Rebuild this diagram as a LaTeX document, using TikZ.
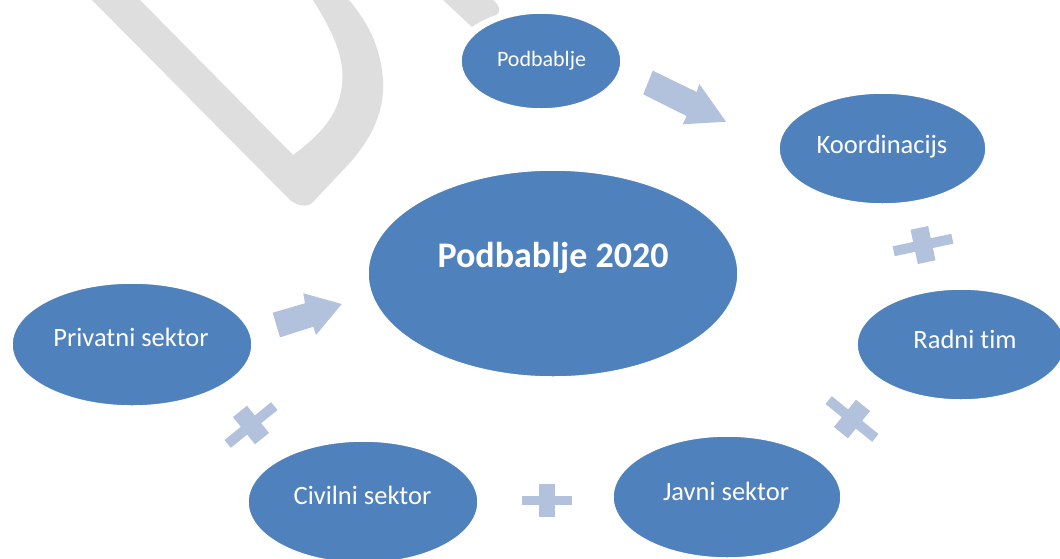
\documentclass[tikz,border=0pt]{standalone}
\usepackage{fontspec}
\setmainfont{Carlito}[Ligatures=NoCommon]
\usetikzlibrary{shapes.geometric,calc}
\definecolor{ellblue}{RGB}{79,129,189}
\definecolor{lightblue}{RGB}{178,193,220}
\definecolor{wmgrey}{RGB}{222,222,222}
\tikzset{
  ell/.style={ellipse, fill=ellblue, draw=white, line width=1.5pt, inner sep=0pt},
  lbl/.style={anchor=base, text=white, inner sep=0pt, font=\fontsize{26.5}{30}\selectfont},
  blockarrow/.style={fill=lightblue, draw=none},
}
\newcommand\plusmark[7]{% x y angle long longthick short shortthick
  \begin{scope}[shift={(#1,#2)}, rotate=#3]
    \fill[lightblue] (-#4/2,-#5/2) rectangle (#4/2,#5/2);
    \fill[lightblue] (-#7/2,-#6/2) rectangle (#7/2,#6/2);
  \end{scope}}
\begin{document}
\begin{tikzpicture}[x=1pt,y=-1pt]
\useasboundingbox (0,0) rectangle (1060,558);
\clip (0,0) rectangle (1060,558);
\fill[white] (0,0) rectangle (1060,558);
% watermark
\fill[wmgrey] (92,0) -- (289,199) .. controls (296,206) and (308,208) .. (313,202)
  -- (345,168) .. controls (372,140) and (385,110) .. (383,80)
  .. controls (381,50) and (370,25) .. (349,0) -- (313,0)
  .. controls (335,35) and (345,60) .. (342,85)
  .. controls (339,115) and (320,135) .. (293,155) -- (140,0) -- cycle;
\fill[wmgrey] (443,0) -- (472,27) .. controls (480,21) and (490,17) .. (496,15)
  .. controls (500,13) and (500,8) .. (497,4) -- (493,0) -- cycle;
% ellipses
\node[ell, minimum width=160pt, minimum height=96pt] (top) at (541,61) {};
\node[ell, minimum width=207pt, minimum height=111pt] (koord) at (882.5,148.5) {};
\node[ell, minimum width=370pt, minimum height=207pt] (center) at (553,273.5) {};
\node[ell, minimum width=240pt, minimum height=123pt] (priv) at (132,344.5) {};
\node[ell, minimum width=208pt, minimum height=111pt] (radni) at (961,344.5) {};
\node[ell, minimum width=230pt, minimum height=122pt] (civil) at (363,502) {};
\node[ell, minimum width=228pt, minimum height=122pt] (javni) at (727,497) {};
% labels
\node[lbl, font=\fontsize{22}{26}\selectfont] (ttop) at (541.5,66) {Podbablje};
\node[lbl] (tkoord) at (882,153.3) {Koordinacijs};
\node[lbl, font=\fontsize{36}{40}\selectfont\bfseries] (tcenter) at (553,267.3) {Podbablje 2020};
\node[lbl] (tpriv) at (131,346) {Privatni sektor};
\node[lbl] (tradni) at (965,348.3) {Radni tim};
\node[lbl] (tcivil) at (362.5,504) {Civilni sektor};
\node[lbl] (tjavni) at (726,500) {Javni sektor};
% block arrows
\fill[blockarrow] (652.7,70.7) -- (696.7,92) -- (699.3,84) -- (726,121.7)
  -- (682.7,124.3) -- (686.7,116) -- (643.3,94.3) -- cycle;
\fill[blockarrow] (272.7,312.7) -- (305,303.3) -- (303.3,293.3) -- (341.7,304)
  -- (316,335) -- (313.3,326.7) -- (280,337.3) -- cycle;
% plus signs
\plusmark{923}{245}{12}{60}{10}{35}{18}
\plusmark{852}{419}{-39}{60}{10}{35}{18}
\plusmark{547}{500.7}{0}{50}{9}{33}{16}
\plusmark{251}{425}{39}{60}{10}{35}{18}
\end{tikzpicture}
\end{document}
